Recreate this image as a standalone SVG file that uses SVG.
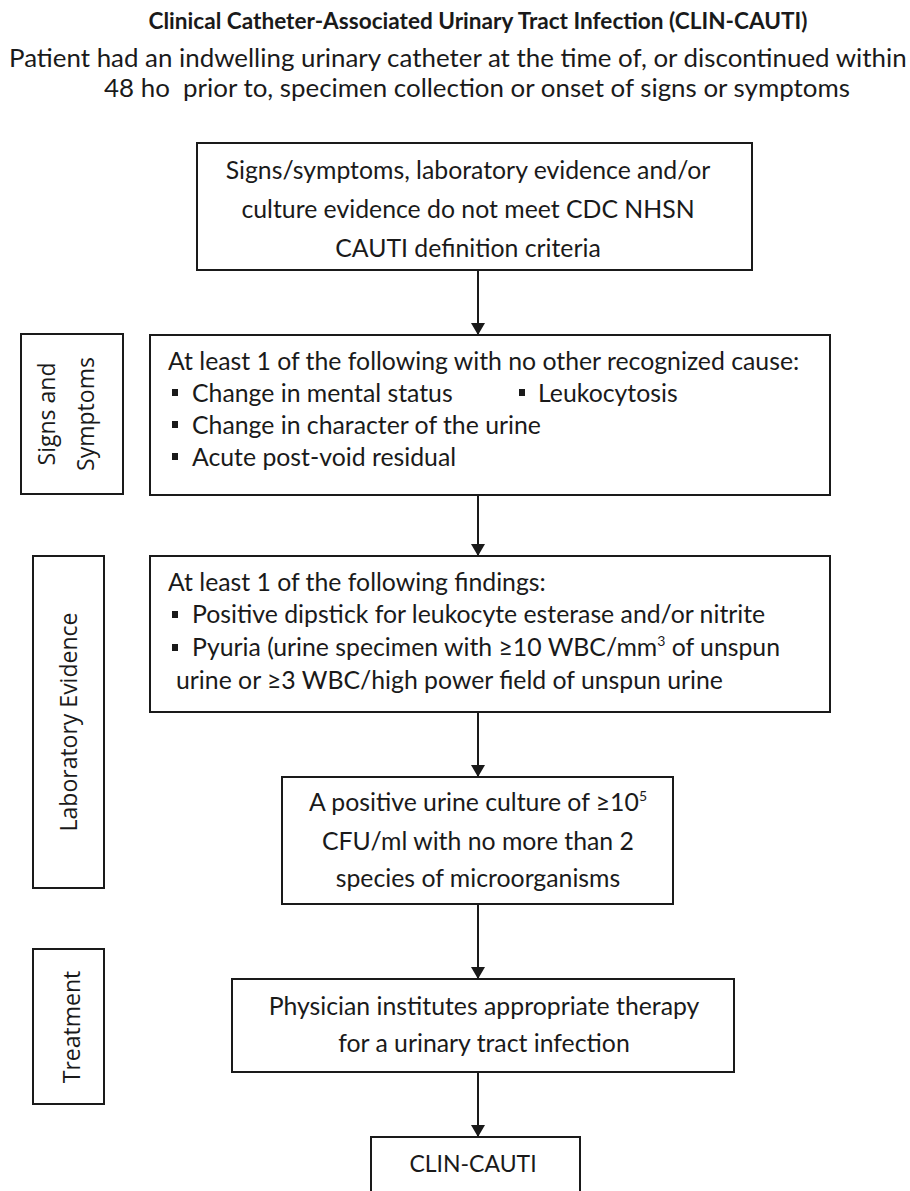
<svg xmlns="http://www.w3.org/2000/svg" width="910" height="1191" viewBox="0 0 910 1191">
<style>
  .bx { fill: #ffffff; stroke: #1a1a1a; stroke-width: 2; }
  .t { font-family: Lato, "Liberation Sans", sans-serif; font-size: 24.8px; fill: #1a1a1a; }
  .c { text-anchor: middle; }
  .hd { font-family: Lato, "Liberation Sans", sans-serif; font-size: 25.9px; fill: #1a1a1a; }
  .ttl { font-family: Lato, "Liberation Sans", sans-serif; font-size: 22.6px; font-weight: bold; fill: #1a1a1a; text-anchor: middle; }
  .side { font-family: "Open Sans", "DejaVu Sans", sans-serif; font-size: 23px; fill: #1a1a1a; text-anchor: middle; }
  .bul { fill: #1a1a1a; }
  .ln { stroke: #1a1a1a; stroke-width: 2; fill: none; marker-end: url(#ah); }
  .sup { font-size: 14px; }
  .res { font-size: 23px; }
</style>
<defs>
  <marker id="ah" viewBox="0 0 12 14" refX="12" refY="7" markerWidth="12" markerHeight="14" markerUnits="userSpaceOnUse" orient="auto">
    <path d="M0,0 L12,7 L0,14 Z" fill="#1a1a1a"/>
  </marker>
</defs>
<rect width="910" height="1191" fill="#ffffff"/>

<g id="title">
  <text class="ttl" x="478" y="29">Clinical Catheter-Associated Urinary Tract Infection (CLIN-CAUTI)</text>
  <text class="hd" x="9" y="67">Patient had an indwelling urinary catheter at the time of, or discontinued within</text>
  <text class="hd c" x="477" y="97">48 ho&#160; prior to, specimen collection or onset of signs or symptoms</text>
</g>

<g id="connectors">
  <line class="ln" x1="478" y1="270" x2="478" y2="335"/>
  <line class="ln" x1="478" y1="495" x2="478" y2="556"/>
  <line class="ln" x1="478" y1="712" x2="478" y2="777"/>
  <line class="ln" x1="478" y1="904" x2="478" y2="979"/>
  <line class="ln" x1="478" y1="1072" x2="478" y2="1137"/>
</g>

<g id="criteria">
  <rect class="bx" x="197" y="143" width="555" height="127"/>
  <text class="t c" x="468" y="179">Signs/symptoms, laboratory evidence and/or</text>
  <text class="t c" x="468" y="218">culture evidence do not meet CDC NHSN</text>
  <text class="t c" x="468" y="257">CAUTI definition criteria</text>
</g>

<g id="signs-label">
  <rect class="bx" x="21" y="334" width="102" height="160"/>
  <text class="side" transform="translate(55,414) rotate(-90)">Signs and</text>
  <text class="side" transform="translate(94,414) rotate(-90)">Symptoms</text>
</g>

<g id="signs">
  <rect class="bx" x="150" y="335" width="680" height="160"/>
  <text class="t" x="168" y="370">At least 1 of the following with no other recognized cause:</text>
  <rect class="bul" x="172" y="389" width="6" height="7"/>
  <text class="t" x="192" y="402">Change in mental status</text>
  <rect class="bul" x="519" y="389" width="6" height="7"/>
  <text class="t" x="538" y="402">Leukocytosis</text>
  <rect class="bul" x="172" y="421" width="6" height="7"/>
  <text class="t" x="192" y="434">Change in character of the urine</text>
  <rect class="bul" x="172" y="453" width="6" height="7"/>
  <text class="t" x="192" y="466">Acute post-void residual</text>
</g>

<g id="lab-label">
  <rect class="bx" x="33" y="556" width="71" height="332"/>
  <text class="side" transform="translate(77,722) rotate(-90)">Laboratory Evidence</text>
</g>

<g id="lab">
  <rect class="bx" x="150" y="556" width="680" height="156"/>
  <text class="t" x="168" y="591">At least 1 of the following findings:</text>
  <rect class="bul" x="172" y="611" width="6" height="7"/>
  <text class="t" x="192" y="623">Positive dipstick for leukocyte esterase and/or nitrite</text>
  <rect class="bul" x="172" y="644" width="6" height="7"/>
  <text class="t" x="192" y="656">Pyuria (urine specimen with ≥10 WBC/mm<tspan class="sup" dy="-10">3</tspan><tspan dy="10"> of unspun</tspan></text>
  <text class="t" x="176" y="689">urine or ≥3 WBC/high power field of unspun urine</text>
</g>

<g id="culture">
  <rect class="bx" x="282" y="777" width="391" height="127"/>
  <text class="t c" x="478" y="811">A positive urine culture of ≥10<tspan class="sup" dy="-10">5</tspan></text>
  <text class="t c" x="478" y="850">CFU/ml with no more than 2</text>
  <text class="t c" x="478" y="887">species of microorganisms</text>
</g>

<g id="treatment-label">
  <rect class="bx" x="33" y="949" width="71" height="155"/>
  <text class="side" transform="translate(80,1027) rotate(-90)">Treatment</text>
</g>

<g id="treatment">
  <rect class="bx" x="232" y="979" width="502" height="93"/>
  <text class="t c" x="484" y="1015">Physician institutes appropriate therapy</text>
  <text class="t c" x="484" y="1052">for a urinary tract infection</text>
</g>

<g id="result">
  <rect class="bx" x="371" y="1137" width="209" height="70"/>
  <text class="t c res" x="473" y="1172">CLIN-CAUTI</text>
</g>
</svg>
